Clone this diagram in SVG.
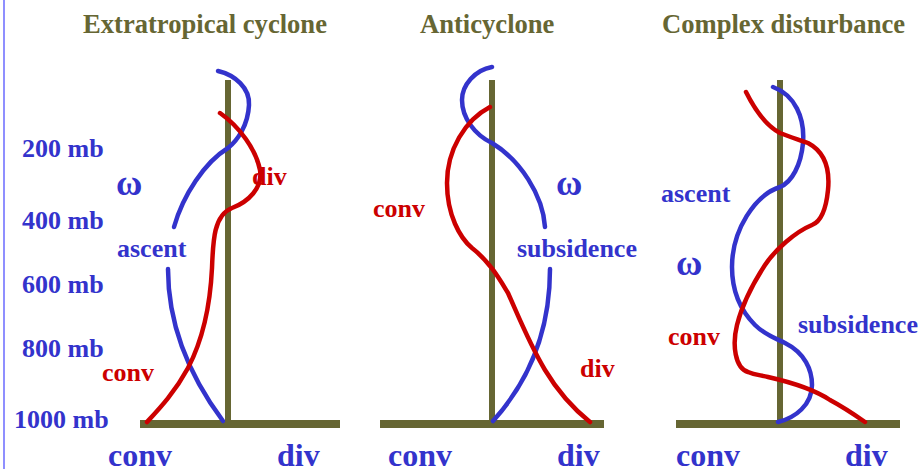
<svg xmlns="http://www.w3.org/2000/svg" width="924" height="469" viewBox="0 0 924 469">
<style>
text{font-family:"Liberation Serif","Times New Roman",serif;font-weight:bold;}
.t{fill:#666633;font-size:26.6px;}
.b{fill:#3333cc;font-size:26px;}
.w{fill:#3333cc;font-size:36px;}
.r{fill:#cc0000;font-size:26px;}
.bb{fill:#3333cc;font-size:32px;}
.ax{stroke:#666633;stroke-width:6;fill:none;}
.axh{stroke:#666633;stroke-width:8;fill:none;}
.cb{stroke:#3333cc;stroke-width:4.5;fill:none;stroke-linecap:round;}
.cr{stroke:#cc0000;stroke-width:4.5;fill:none;stroke-linecap:round;}
</style>
<rect x="0" y="0" width="924" height="469" fill="#ffffff"/>
<line x1="4" y1="0" x2="4" y2="469" stroke="#8f8fff" stroke-width="2"/>
<g id="scale">
<text class="b" x="22" y="157">200 mb</text>
<text class="b" x="22" y="229">400 mb</text>
<text class="b" x="22" y="293">600 mb</text>
<text class="b" x="22" y="357">800 mb</text>
<text class="b" x="14" y="428">1000 mb</text>
</g>
<g id="panel1">
<text class="t" x="83" y="33">Extratropical cyclone</text>
<line class="ax" x1="228" y1="80" x2="228" y2="424"/>
<line class="axh" x1="140" y1="424" x2="340" y2="424"/>
<path class="cb" d="M218,71 C235,75 250,88 249,105 C248,125 238,140 228,148 C205,162 183,195 174,227"/>
<path class="cb" d="M168,269 C168,320 185,370 223,421"/>
<text class="w" x="116" y="195">ω</text>
<text class="b" x="117" y="257">ascent</text>
<text class="r" x="102" y="381">conv</text>
<text class="r" x="252" y="185">div</text>
<path class="cr" d="M220,113 C240,127 256,150 260,170 C263,188 248,202 232,208 C214,215 213,240 212,268 C210,310 200,345 188,368 C175,392 160,408 147,422"/>
<text class="bb" x="108" y="466">conv</text>
<text class="bb" x="277" y="466">div</text>
</g>
<g id="panel2">
<text class="t" x="420" y="33">Anticyclone</text>
<line class="ax" x1="492" y1="80" x2="492" y2="424"/>
<line class="axh" x1="380" y1="424" x2="604" y2="424"/>
<path class="cb" d="M492,67 C475,70 462,85 462,100 C462,118 475,135 492,143 C520,160 543,195 545,227"/>
<path class="cb" d="M550,269 C550,330 530,380 493,421"/>
<text class="w" x="556" y="195">ω</text>
<text class="b" x="517" y="257">subsidence</text>
<text class="r" x="373" y="217">conv</text>
<text class="r" x="580" y="377">div</text>
<path class="cr" d="M490,107 C465,120 447,150 447,183 C447,215 460,238 472,248 C490,262 500,280 508,293 C520,320 530,345 545,370 C560,395 575,410 590,422"/>
<text class="bb" x="388" y="466">conv</text>
<text class="bb" x="557" y="466">div</text>
</g>
<g id="panel3">
<text class="t" x="662" y="33">Complex disturbance</text>
<line class="ax" x1="780" y1="80" x2="780" y2="424"/>
<line class="axh" x1="676" y1="424" x2="900" y2="424"/>
<path class="cb" d="M773,87 C795,95 805,118 803,143 C801,165 792,182 780,187 C755,195 732,230 732,267 C732,290 740,310 755,325 C765,335 775,338 785,343 C805,353 812,370 812,385 C812,405 795,418 778,422"/>
<text class="b" x="661" y="202">ascent</text>
<text class="w" x="676" y="275">ω</text>
<text class="b" x="798" y="333">subsidence</text>
<text class="r" x="668" y="345">conv</text>
<path class="cr" d="M746,92 C755,110 765,125 780,133 C790,137 800,140 808,143 C825,152 830,170 828,190 C826,210 820,222 812,225 C795,232 775,250 765,265 C752,285 742,305 737,325 C732,345 735,368 748,372 C755,375 760,375 768,377 C790,382 815,390 830,400 C845,408 855,415 865,422"/>
<text class="bb" x="676" y="466">conv</text>
<text class="bb" x="845" y="466">div</text>
</g>
</svg>
